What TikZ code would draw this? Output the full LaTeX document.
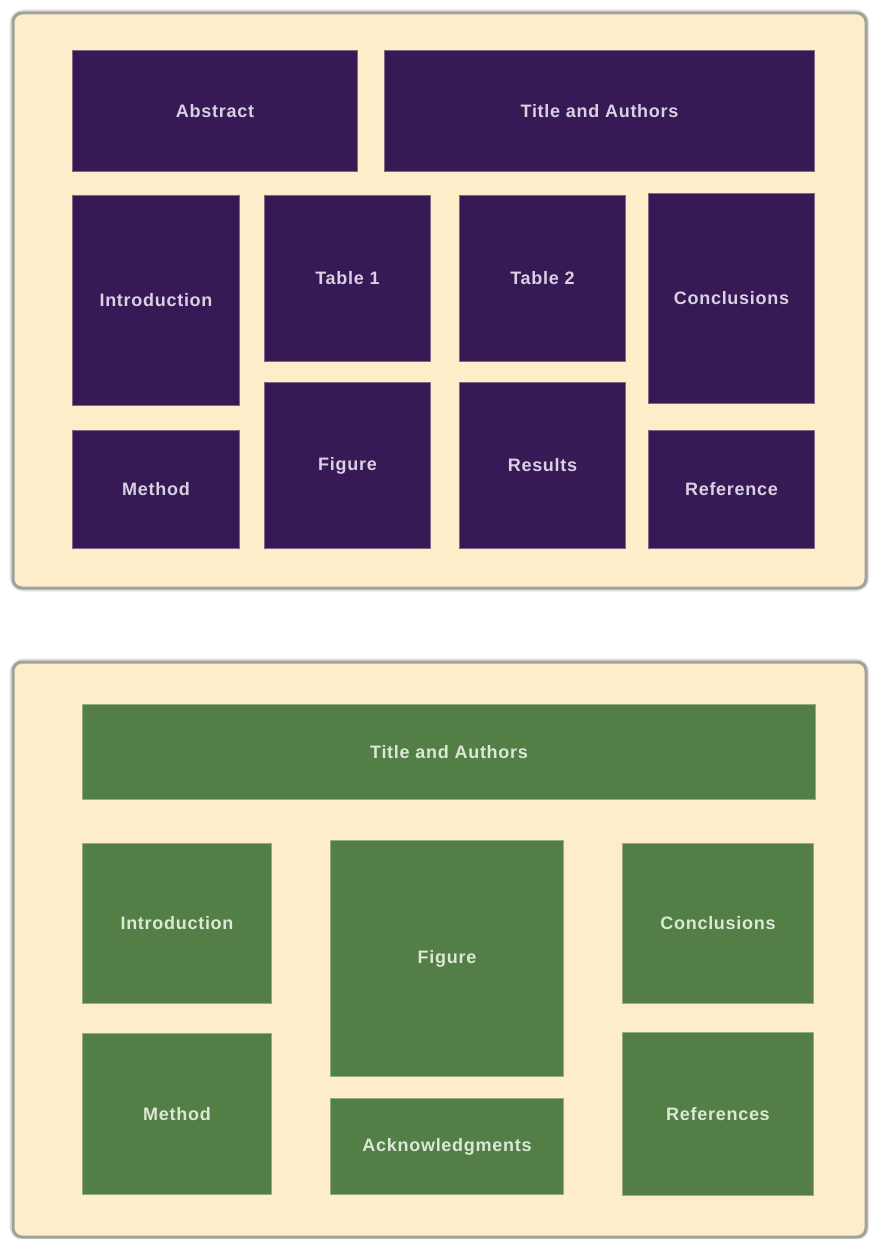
\documentclass[tikz,border=0pt]{standalone}
\usepackage{fontspec}
\setmainfont{Liberation Sans}
\newfontfamily\boxfont[LetterSpace=4]{Liberation Sans}
\definecolor{cream}{HTML}{FDEDC8}
\definecolor{purp}{HTML}{371A55}
\definecolor{purpedge}{HTML}{7E6A86}
\definecolor{purptext}{HTML}{D9D0E2}
\definecolor{grn}{HTML}{537F46}
\definecolor{grnedge}{HTML}{93AE78}
\definecolor{grntext}{HTML}{DCE8D6}
\definecolor{frame}{HTML}{A3A19C}
\begin{document}
\begin{tikzpicture}[x=1pt,y=-1pt,
  panel/.style={fill=cream,draw=frame,line width=3pt,rounded corners=9pt},
  halo/.style={draw=black!12,line width=7pt,rounded corners=11pt},
  pbox/.style={fill=purp,draw=purpedge,line width=1.5pt,text=purptext,inner sep=0pt,
    font=\boxfont\fontsize{18}{21}\selectfont\bfseries},
  gbox/.style={fill=grn,draw=grnedge,line width=1.5pt,text=grntext,inner sep=0pt,
    font=\boxfont\fontsize{18}{21}\selectfont\bfseries}]
\useasboundingbox (0,0) rectangle (868,1239);
\fill[white] (0,0) rectangle (868,1239);
% panels
\draw[halo] (13,13) rectangle (866,588);
\draw[panel] (13,13) rectangle (866,588);
\draw[halo] (13,662) rectangle (866,1237);
\draw[panel] (13,662) rectangle (866,1237);
% top layout
\node[pbox,minimum width=285pt,minimum height=121pt] (abs) at (215,111) {Abstract};
\node[pbox,minimum width=430pt,minimum height=121pt] (tit1) at (599.5,111) {Title and Authors};
\node[pbox,minimum width=167pt,minimum height=210pt] (intro1) at (156,300.5) {Introduction};
\node[pbox,minimum width=166pt,minimum height=166pt] (tab1) at (347.5,278.5) {Table 1};
\node[pbox,minimum width=166pt,minimum height=166pt] (tab2) at (542.5,278.5) {Table 2};
\node[pbox,minimum width=166pt,minimum height=210pt] (concl1) at (731.5,298.5) {Conclusions};
\node[pbox,minimum width=167pt,minimum height=118pt] (meth1) at (156,489.5) {Method};
\node[pbox,minimum width=166pt,minimum height=166pt] (fig1) at (347.5,465.5) {Figure};
\node[pbox,minimum width=166pt,minimum height=166pt] (res1) at (542.5,465.5) {Results};
\node[pbox,minimum width=166pt,minimum height=118pt] (ref1) at (731.5,489.5) {Reference};
% bottom layout
\node[gbox,minimum width=733pt,minimum height=95pt] (tit2) at (449,752) {Title and Authors};
\node[gbox,minimum width=189pt,minimum height=160pt] (intro2) at (177,923.5) {Introduction};
\node[gbox,minimum width=233pt,minimum height=236pt] (fig2) at (447,958.5) {Figure};
\node[gbox,minimum width=191pt,minimum height=160pt] (concl2) at (718,923.5) {Conclusions};
\node[gbox,minimum width=189pt,minimum height=161pt] (meth2) at (177,1114) {Method};
\node[gbox,minimum width=233pt,minimum height=96pt] (ack) at (447,1146.5) {Acknowledgments};
\node[gbox,minimum width=191pt,minimum height=163pt] (refs) at (718,1114) {References};
\end{tikzpicture}
\end{document}
